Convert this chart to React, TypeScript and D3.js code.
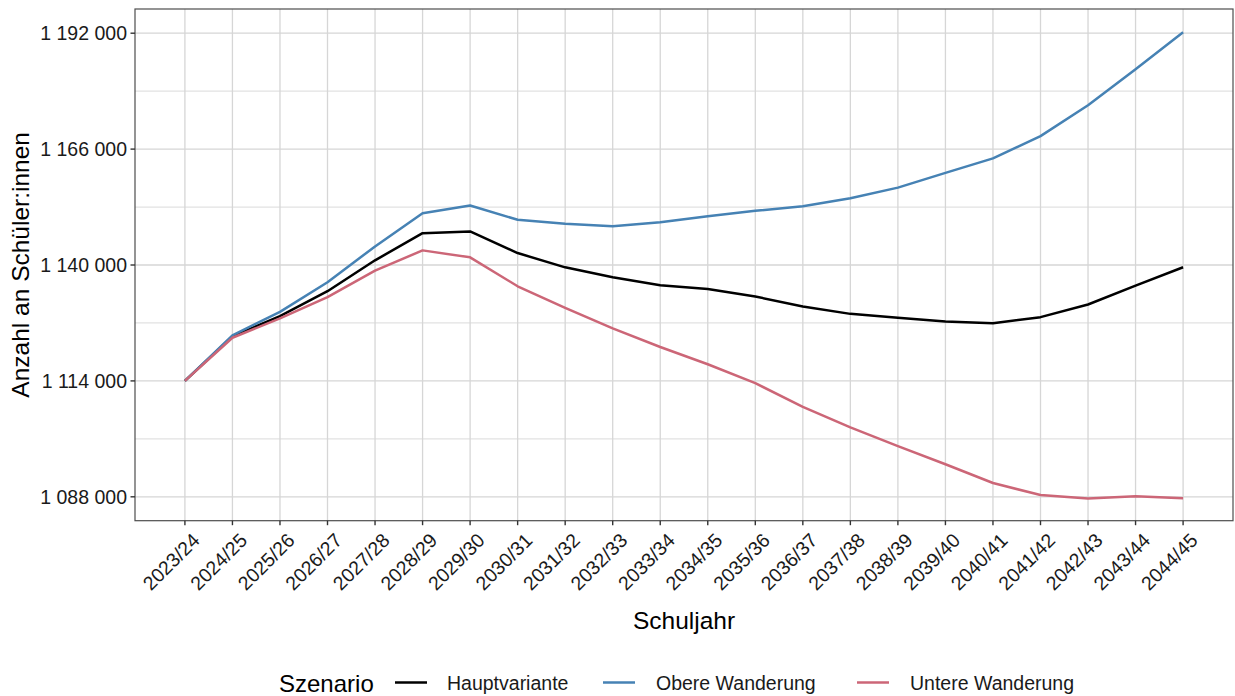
import React from "react";
import * as d3 from "d3";

const years = ["2023/24","2024/25","2025/26","2026/27","2027/28","2028/29","2029/30","2030/31","2031/32","2032/33","2033/34","2034/35","2035/36","2036/37","2037/38","2038/39","2039/40","2040/41","2041/42","2042/43","2043/44","2044/45"];
const hauptvariante = [1114000,1123990,1128530,1134120,1141050,1147150,1147530,1142680,1139480,1137250,1135460,1134630,1132930,1130700,1129040,1128150,1127300,1126920,1128300,1131140,1135390,1139500];
const obereWanderung = [1114000,1124220,1129490,1136130,1144170,1151620,1153340,1150140,1149250,1148710,1149610,1150950,1152150,1153180,1154970,1157360,1160670,1163910,1168920,1175850,1183940,1192200];
const untereWanderung = [1114000,1123680,1128010,1132780,1138740,1143280,1141720,1135230,1130380,1125780,1121600,1117730,1113490,1108190,1103560,1099360,1095310,1091090,1088390,1087600,1088100,1087650];
const majorTicks = [1088000,1114000,1140000,1166000,1192000];
const minorTicks = [1101000,1127000,1153000,1179000];
const seriesNames = ["Hauptvariante","Obere Wanderung","Untere Wanderung"];
const seriesColors = ["#000000","#4682B4","#CC6677"];
const yDomain = [1082640, 1197430];

const W = 1235, H = 696;
const L = 135, R = 1233, T = 9, B = 520.7;
const FONT = "'Liberation Sans', Arial, sans-serif";

export default function App() {
  const n = years.length;
  const x = d3.scaleLinear().domain([-(n - 1) * 0.05, (n - 1) * 1.05]).range([L, R]);
  const y = d3.scaleLinear().domain(yDomain).range([B, T]);
  const loc = d3.formatLocale({ decimal: ",", thousands: " ", grouping: [3], currency: ["", "€"] });
  const fmt = loc.format(",d");
  const line = d3.line<number>().x((_, i) => x(i)).y((d) => y(d));
  const series = [hauptvariante, obereWanderung, untereWanderung];

  const legendItems = [
    { key: 395, text: 447 },
    { key: 603, text: 656 },
    { key: 857, text: 910 },
  ];

  return (
    <svg width={W} height={H} style={{ position: "absolute", left: 0, top: 0, background: "#fff" }} fontFamily={FONT}>
      <rect x={0} y={0} width={W} height={H} fill="#fff" />
      {minorTicks.map((t) => (
        <line key={"mn" + t} x1={L} x2={R} y1={y(t)} y2={y(t)} stroke="#e2e2e2" strokeWidth={1.2} />
      ))}
      {majorTicks.map((t) => (
        <line key={"mj" + t} x1={L} x2={R} y1={y(t)} y2={y(t)} stroke="#d6d6d6" strokeWidth={1.3} />
      ))}
      {years.map((yr, i) => (
        <line key={"vx" + yr} x1={x(i)} x2={x(i)} y1={T} y2={B} stroke="#d6d6d6" strokeWidth={1.3} />
      ))}
      {series.map((s, k) => (
        <path key={"s" + k} d={line(s) || ""} fill="none" stroke={seriesColors[k]} strokeWidth={2.5} strokeLinejoin="round" />
      ))}
      <rect x={L} y={T} width={R - L} height={B - T} fill="none" stroke="#4d4d4d" strokeWidth={1.2} />
      {majorTicks.map((t) => (
        <g key={"yt" + t}>
          <line x1={L - 4.5} x2={L} y1={y(t)} y2={y(t)} stroke="#333" strokeWidth={1.4} />
          <text x={L - 8} y={y(t)} dy="0.36em" textAnchor="end" fontSize={19.5} fill="#1a1a1a">{fmt(t)}</text>
        </g>
      ))}
      {years.map((yr, i) => (
        <g key={"xt" + yr}>
          <line x1={x(i)} x2={x(i)} y1={B} y2={B + 4.5} stroke="#333" strokeWidth={1.4} />
          <text transform={`translate(${x(i) + 6},${B + 11}) rotate(-45)`} textAnchor="end" dy="0.72em" fontSize={19.5} fill="#1a1a1a">{yr}</text>
        </g>
      ))}
      <text x={(L + R) / 2} y={629} textAnchor="middle" fontSize={24.5} fill="#000">Schuljahr</text>
      <text transform={`translate(29,${(T + B) / 2}) rotate(-90)`} textAnchor="middle" fontSize={24.5} fill="#000">Anzahl an Schüler:innen</text>
      <text x={279} y={692} fontSize={24} fill="#000">Szenario</text>
      {legendItems.map((it, k) => (
        <g key={"lg" + k}>
          <line x1={it.key} x2={it.key + 32} y1={682.5} y2={682.5} stroke={seriesColors[k]} strokeWidth={2.5} />
          <text x={it.text} y={690} fontSize={19.5} fill="#1a1a1a">{seriesNames[k]}</text>
        </g>
      ))}
    </svg>
  );
}
